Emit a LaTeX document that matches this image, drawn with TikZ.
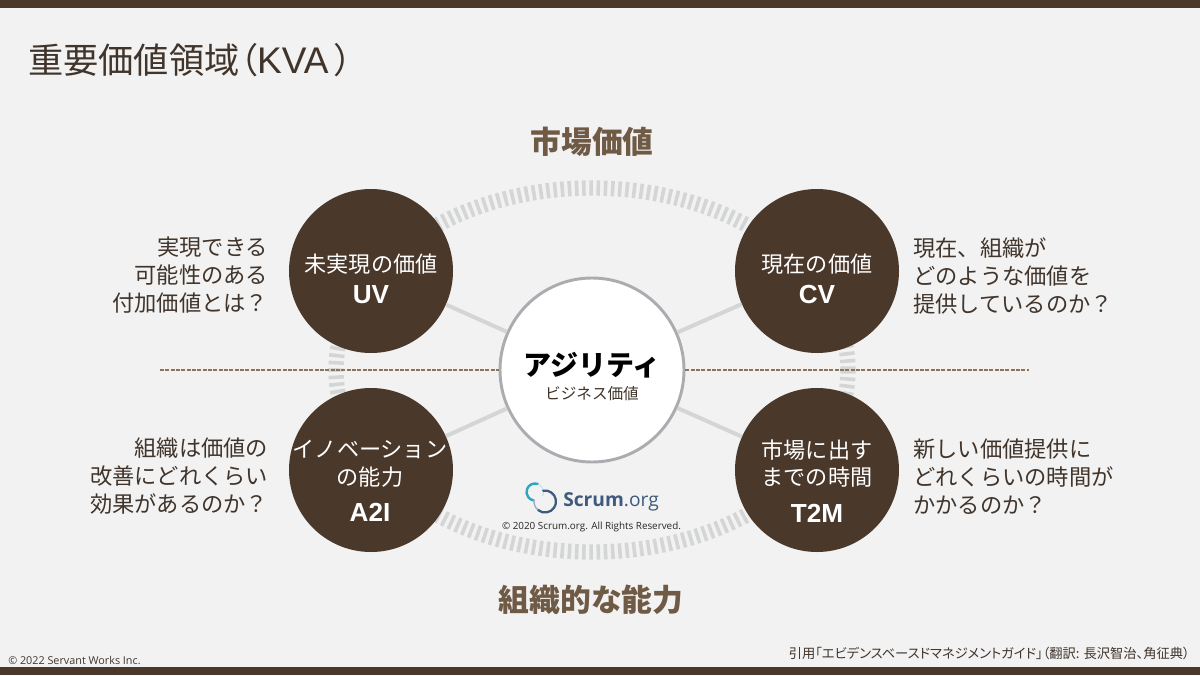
\documentclass[tikz,border=0pt]{standalone}
\usepackage{fontspec}
\setmainfont{Noto Sans CJK JP}
\newfontfamily\pal{Noto Sans CJK JP}[RawFeature=+palt]
\newfontfamily\latn{Liberation Sans}
\newfontfamily\logof{Open Sans}
\definecolor{bark}{HTML}{4A382B}
\definecolor{paper}{HTML}{F2F2F2}
\definecolor{headbrown}{HTML}{6F5A45}
\definecolor{ringgray}{HTML}{D4D5D5}
\definecolor{rimgray}{HTML}{ABACB0}
\definecolor{dashbrown}{HTML}{8B735D}
\definecolor{txt}{HTML}{40342B}
\definecolor{scrumblue}{HTML}{3F5A7D}
\definecolor{scrumteal}{HTML}{2FA5BE}
\newcommand{\fsz}[2]{\fontsize{#1}{#2}\selectfont}
\newcommand{\abbr}[1]{{\latn\bfseries\fsz{19.6}{21}#1}}
\tikzset{
  x=0.75pt,y=-0.75pt,
  kva/.style={circle,fill=bark,minimum size=123pt,inner sep=0pt},
  kvatext/.style={inner sep=0pt,text=white,align=center,font=\fsz{16.6}{20.3}},
  core/.style={circle,fill=white,draw=rimgray,line width=2.2pt,minimum size=138pt,inner sep=0pt},
  link/.style={draw=ringgray,line width=3pt},
  sep/.style={draw=dashbrown,line width=0.9pt,dash pattern=on 3pt off 1pt},
  side/.style={inner sep=0pt,text=txt,font=\fsz{16.7}{21}},
  head/.style={inner sep=0pt,text=headbrown,font=\fsz{23.1}{28}\bfseries},
}
\begin{document}
\begin{tikzpicture}
\useasboundingbox (0,0) rectangle (1200,675);
\fill[paper] (0,0) rectangle (1200,675);
\fill[bark] (0,0) rectangle (1200,8);
\fill[bark] (0,667) rectangle (1200,675);

\node[anchor=west,inner sep=0pt,text=txt,font=\pal\fsz{26.4}{30}] (title) at (28,60) {重要価値領域（{\latn\fontsize{27.8}{30}\selectfont KVA}\,）};

% ring
\draw[ringgray,line width=11.5pt,dash pattern=on 2.7pt off 2.7pt] (592,370) ellipse [x radius=256,y radius=182];

\node[head] (market) at (592,142) {市場価値};
\node[head] (org) at (591,600) {組織的な能力};

\coordinate (sl) at (160,370);
\coordinate (sr) at (1029,370);

\node[core] (c) at (592,370) {};
\node[inner sep=0pt,font=\fsz{21}{24}\bfseries,text=black] (ct) at (592,365) {アジリティ};
\node[inner sep=0pt,font=\fsz{11.7}{14},text=txt] (cs) at (592,394) {ビジネス価値};

\node[kva] (uv) at (371,271) {};
\node[kva] (cv) at (817,271) {};
\node[kva] (a2i) at (371,470) {};
\node[kva] (t2m) at (817,470) {};
\node[kvatext] (uvt) at (371,279) {未実現の価値\\[3pt]\abbr{UV}};
\node[kvatext] (cvt) at (817,279) {現在の価値\\[3pt]\abbr{CV}};
\node[kvatext] (a2it) at (370,481) {イノベーション\\の能力\\[7pt]\abbr{A2I}};
\node[kvatext] (t2mt) at (817,481) {市場に出す\\までの時間\\[7pt]\abbr{T2M}};

\draw[link] (c) -- (uv);
\draw[link] (c) -- (cv);
\draw[link] (c) -- (a2i);
\draw[link] (c) -- (t2m);
\draw[sep] (sl) -- (c);
\draw[sep] (c) -- (sr);

\node[side,anchor=east,align=right] (tl) at (268.5,275.5) {実現できる\\可能性のある\\付加価値とは？};
\node[side,anchor=east,align=right] (bl) at (268.5,476.5) {組織は価値の\\改善にどれくらい\\効果があるのか？};
\node[side,anchor=west,align=left] (tr) at (913,275.5) {現在、組織が\\どのような価値を\\提供しているのか？};
\node[side,anchor=west,align=left] (br) at (913,476.5) {新しい価値提供に\\どれくらいの時間が\\かかるのか？};

% logo
\coordinate (lt) at (535,492);
\coordinate (lb) at (545,501.5);
\draw[scrumteal,line width=1.8pt,line cap=round] (lt) ++(-70:8.5) arc[start angle=-70,delta angle=-190,radius=8.5];
\draw[scrumteal!35,line width=0.6pt] (lt) ++(-70:8.5) arc[start angle=-70,delta angle=100,radius=8.5];
\draw[scrumblue,line width=1.7pt,line cap=round] (lb) ++(-100:11) arc[start angle=-100,delta angle=230,radius=11];
\draw[scrumblue!50,line width=1pt] (lb) ++(130:11) arc[start angle=130,delta angle=60,radius=11];
\node[anchor=west,inner sep=0pt,text=scrumblue,font=\logof\fsz{14.4}{18}] (logo) at (563,502) {\textbf{Scrum}.org};
\node[inner sep=0pt,text=black!85,font=\logof\fsz{7.4}{10}] (copy) at (591.5,526.5) {© 2020 Scrum.org. All Rights Reserved.};

\node[anchor=west,inner sep=0pt,text=txt,font=\logof\fsz{8.1}{10}] (fl) at (8,660.5) {© 2022 Servant Works Inc.};
\node[anchor=east,inner sep=0pt,text=txt,font=\pal\fsz{9.95}{12}] (fr) at (1190,653) {引用「エビデンスベースドマネジメントガイド」（翻訳: 長沢智治、角征典）};
\end{tikzpicture}
\end{document}
